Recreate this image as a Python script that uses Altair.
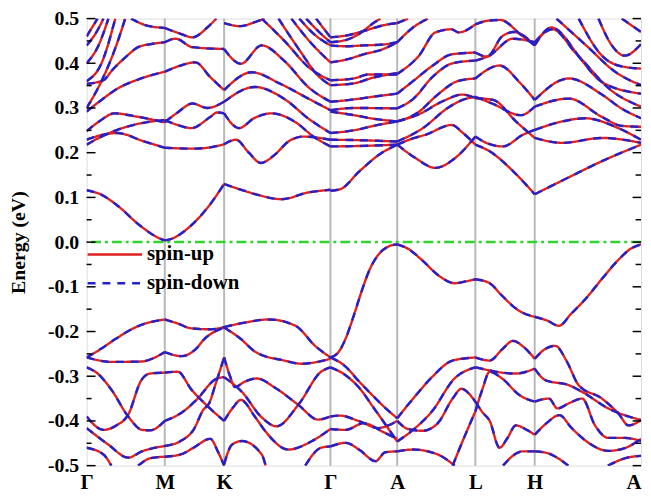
import altair as alt
import pandas as pd

# high-symmetry points along the k-path
kpos = [0, 79, 139, 246.5, 314, 393, 453, 560.5]
klabels = ["Γ", "M", "K", "Γ", "A", "L", "H", "A"]
ymajor = [-0.5, -0.4, -0.3, -0.2, -0.1, 0.0, 0.1, 0.2, 0.3, 0.4, 0.5]
yminor = [-0.45, -0.35, -0.25, -0.15, -0.05, 0.05, 0.15, 0.25, 0.35, 0.45]
spins = ["spin-up", "spin-down"]

# bands, segment by segment: [k, E(eV)]
GM_up = [
    [[0, 0.116], [14, 0.107], [31, 0.082], [54, 0.037], [74, 0.008], [79, 0.004]],
    [[0, 0.229], [16, 0.240], [31, 0.244], [57, 0.226], [79, 0.211]],
    [[0, 0.218], [15, 0.236], [31, 0.251], [60, 0.268], [79, 0.273]],
    [[0, 0.248], [14, 0.272], [28, 0.288], [50, 0.281], [79, 0.268]],
    [[0, 0.292], [15, 0.318], [31, 0.343], [55, 0.366], [79, 0.381]],
    [[0, 0.354], [17, 0.362], [26, 0.385], [40, 0.415], [52, 0.436], [65, 0.443], [79, 0.447]],
    [[45, 0.500], [60, 0.485], [79, 0.479]],
    [[0, 0.300], [15, 0.360], [30, 0.440], [39, 0.500]],
    [[0, 0.360], [15, 0.400], [29, 0.500]],
    [[0, 0.400], [12, 0.440], [22, 0.500]],
    [[0, 0.440], [10, 0.470], [17, 0.500]],
    [[0, 0.460], [11, 0.500]],
]
GM_dn = [
    [[0, -0.258], [15, -0.238], [29, -0.217], [52, -0.188], [79, -0.173]],
    [[0, -0.258], [26, -0.268], [56, -0.267], [66, -0.261], [79, -0.246]],
    [[0, -0.280], [10, -0.292], [25, -0.330], [42, -0.390], [56, -0.420], [64, -0.421], [79, -0.400]],
    [[0, -0.390], [17, -0.420], [30, -0.410], [42, -0.386], [55, -0.310], [64, -0.294], [79, -0.292]],
    [[0, -0.416], [22, -0.453], [42, -0.482], [56, -0.468], [79, -0.456]],
    [[0, -0.460], [17, -0.475], [25, -0.500]],
    [[52, -0.500], [65, -0.483], [79, -0.480]],
]
MK_up = [
    [[79, 0.004], [84, 0.006], [104, 0.034], [124, 0.082], [139, 0.130]],
    [[79, 0.211], [108, 0.209], [125, 0.212], [139, 0.219]],
    [[79, 0.273], [92, 0.262], [106, 0.255], [125, 0.280], [132, 0.290], [139, 0.288]],
    [[79, 0.268], [92, 0.290], [107, 0.310], [122, 0.300], [139, 0.314]],
    [[79, 0.381], [95, 0.395], [110, 0.402], [125, 0.369], [139, 0.340]],
    [[79, 0.447], [90, 0.455], [107, 0.436], [139, 0.432]],
    [[79, 0.479], [95, 0.466], [107, 0.458], [122, 0.480], [131, 0.500]],
]
MK_dn = [
    [[79, -0.173], [92, -0.182], [106, -0.193], [125, -0.195], [139, -0.190]],
    [[79, -0.246], [96, -0.255], [110, -0.240], [119, -0.217], [139, -0.191]],
    [[79, -0.400], [97, -0.380], [111, -0.353], [131, -0.306], [139, -0.302]],
    [[79, -0.292], [92, -0.290], [106, -0.330], [119, -0.360], [139, -0.400]],
    [[79, -0.456], [95, -0.445], [108, -0.420], [118, -0.375], [124, -0.360], [130, -0.320], [139, -0.258]],
    [[79, -0.480], [95, -0.475], [108, -0.460], [125, -0.440], [133, -0.470], [139, -0.500]],
]
KG_up = [
    [[139, 0.130], [155, 0.118], [171, 0.107], [197, 0.096], [224, 0.111], [246.5, 0.117]],
    [[139, 0.219], [151, 0.229], [164, 0.200], [176, 0.177], [190, 0.195], [204, 0.225], [219, 0.236], [246.5, 0.229]],
    [[139, 0.288], [154, 0.255], [170, 0.278], [187, 0.288], [210, 0.270], [230, 0.235], [246.5, 0.214]],
    [[139, 0.314], [170, 0.347], [200, 0.320], [225, 0.275], [246.5, 0.244]],
    [[139, 0.340], [167, 0.380], [195, 0.355], [225, 0.320], [246.5, 0.295]],
    [[139, 0.432], [156, 0.399], [177, 0.440], [200, 0.405], [225, 0.345], [246.5, 0.314]],
    [[139, 0.490], [155, 0.483], [170, 0.492], [180, 0.500]],
    [[177, 0.500], [200, 0.450], [225, 0.390], [246.5, 0.362]],
    [[194, 0.500], [215, 0.430], [235, 0.370], [246.5, 0.351]],
    [[207, 0.500], [225, 0.450], [246.5, 0.402]],
    [[215, 0.500], [230, 0.465], [246.5, 0.440]],
    [[222, 0.500], [235, 0.470], [246.5, 0.447]],
    [[232, 0.500], [246.5, 0.458]],
]
KG_dn = [
    [[139, -0.190], [160, -0.180], [184, -0.173], [211, -0.187], [231, -0.232], [246.5, -0.258]],
    [[139, -0.191], [155, -0.215], [171, -0.246], [200, -0.265], [217, -0.272], [246.5, -0.261]],
    [[139, -0.258], [145, -0.300], [150, -0.324], [160, -0.312], [172, -0.305], [190, -0.325], [214, -0.364], [234, -0.397], [246.5, -0.390]],
    [[139, -0.302], [157, -0.335], [177, -0.392], [192, -0.412], [214, -0.364], [237, -0.290], [246.5, -0.280]],
    [[139, -0.400], [148, -0.370], [156, -0.353], [170, -0.390], [181, -0.424], [204, -0.464], [227, -0.446], [246.5, -0.418]],
    [[139, -0.497], [147, -0.453], [157, -0.445], [177, -0.475], [181, -0.500]],
    [[221, -0.500], [237, -0.460], [246.5, -0.457]],
]
GA_up = [
    [[246.5, 0.115], [256, 0.118], [276, 0.159], [296, 0.196], [314, 0.218]],
    [[246.5, 0.214], [275, 0.215], [314, 0.218]],
    [[246.5, 0.229], [275, 0.228], [314, 0.225]],
    [[246.5, 0.244], [270, 0.250], [290, 0.260], [314, 0.270]],
    [[246.5, 0.292], [270, 0.284], [290, 0.276], [314, 0.270]],
    [[246.5, 0.295], [270, 0.300], [314, 0.299]],
    [[246.5, 0.314], [266, 0.318], [289, 0.325], [314, 0.332]],
    [[246.5, 0.351], [270, 0.355], [290, 0.368], [314, 0.378]],
    [[246.5, 0.362], [270, 0.366], [285, 0.375], [314, 0.375]],
    [[246.5, 0.402], [262, 0.408], [280, 0.420], [300, 0.432], [314, 0.447]],
    [[246.5, 0.440], [262, 0.438], [280, 0.440], [300, 0.442], [314, 0.447]],
    [[246.5, 0.447], [262, 0.452], [275, 0.465], [290, 0.490], [297, 0.500]],
    [[246.5, 0.458], [262, 0.462], [280, 0.472], [300, 0.485], [314, 0.490]],
]
GA_dn = [
    [[246.5, -0.258], [255, -0.245], [262, -0.215], [270, -0.165], [278, -0.110], [286, -0.062], [295, -0.028], [305, -0.010], [314, -0.005]],
    [[246.5, -0.258], [260, -0.275], [276, -0.313], [290, -0.345], [302.5, -0.372], [314, -0.394]],
    [[246.5, -0.280], [260, -0.295], [276, -0.327], [290, -0.370], [302.5, -0.409], [314, -0.446]],
    [[246.5, -0.390], [256, -0.388], [276, -0.401], [295, -0.416], [305, -0.410], [314, -0.400]],
    [[246.5, -0.418], [262, -0.420], [280, -0.405], [300, -0.425], [314, -0.440]],
    [[246.5, -0.457], [262, -0.449], [276, -0.465], [292, -0.490], [302, -0.470], [314, -0.468]],
]
AL_up = [
    [[314, 0.218], [332.5, 0.188], [352.5, 0.166], [372.5, 0.188], [393, 0.236]],
    [[314, 0.218], [330, 0.232], [342.5, 0.240], [369, 0.262], [380, 0.245], [393, 0.218]],
    [[314, 0.225], [340, 0.255], [365, 0.300], [380, 0.318], [393, 0.325]],
    [[314, 0.270], [335, 0.285], [360, 0.315], [380, 0.330], [393, 0.322]],
    [[314, 0.270], [335, 0.290], [355, 0.330], [375, 0.360], [393, 0.366]],
    [[314, 0.299], [330, 0.320], [350, 0.370], [370, 0.400], [393, 0.406]],
    [[314, 0.332], [330, 0.360], [350, 0.395], [369, 0.420], [393, 0.424]],
    [[314, 0.376], [336, 0.417], [352.5, 0.469], [369, 0.476], [376, 0.469], [393, 0.487]],
    [[314, 0.447], [330, 0.480], [345, 0.500]],
    [[314, 0.490], [325, 0.500]],
]
AL_dn = [
    [[314, -0.005], [325, -0.015], [339, -0.040], [356, -0.075], [372.5, -0.092], [383, -0.088], [393, -0.083]],
    [[314, -0.394], [332, -0.345], [350, -0.300], [370, -0.265], [393, -0.258]],
    [[314, -0.446], [330, -0.420], [349, -0.379], [372, -0.305], [393, -0.280]],
    [[314, -0.400], [325, -0.418], [340, -0.422], [355, -0.405], [370, -0.350], [379, -0.328], [387, -0.340], [393, -0.357]],
    [[314, -0.468], [330, -0.464], [355, -0.475], [372, -0.500]],
    [[370, -0.500], [383, -0.430], [393, -0.379]],
]
LH_up = [
    [[393, 0.218], [407.5, 0.203], [431, 0.159], [453, 0.107]],
    [[393, 0.236], [404, 0.222], [421, 0.214], [441, 0.240], [453, 0.251]],
    [[393, 0.325], [410, 0.310], [439, 0.284], [453, 0.303]],
    [[393, 0.322], [411, 0.318], [434, 0.270], [453, 0.233]],
    [[393, 0.366], [417.5, 0.395], [437.5, 0.358], [453, 0.318]],
    [[393, 0.406], [407, 0.417], [431, 0.455], [453, 0.447]],
    [[393, 0.424], [405, 0.415], [420, 0.460], [432, 0.470], [453, 0.440]],
    [[393, 0.487], [405, 0.495], [418, 0.497], [440, 0.462], [453, 0.440]],
]
LH_dn = [
    [[393, -0.083], [407.5, -0.092], [420, -0.120], [437.5, -0.154], [453, -0.167]],
    [[393, -0.258], [407.5, -0.265], [420, -0.240], [431, -0.221], [442, -0.235], [453, -0.261]],
    [[393, -0.280], [407.5, -0.287], [420, -0.292], [434, -0.294], [453, -0.283]],
    [[393, -0.379], [400, -0.330], [407.5, -0.290], [420, -0.305], [437.5, -0.342], [453, -0.357]],
    [[393, -0.357], [400, -0.380], [407.5, -0.400], [417.5, -0.460], [425, -0.440], [434, -0.410], [445, -0.420], [453, -0.431]],
    [[421, -0.500], [435, -0.472], [441, -0.468], [453, -0.468]],
]
HA_up = [
    [[453, 0.107], [487.5, 0.145], [521, 0.181], [560.5, 0.218]],
    [[453, 0.233], [481, 0.222], [521, 0.233], [560.5, 0.222]],
    [[453, 0.251], [481, 0.270], [504, 0.277], [537.5, 0.255], [560.5, 0.229]],
    [[453, 0.303], [487.5, 0.321], [521, 0.280], [541, 0.260], [560.5, 0.258]],
    [[453, 0.318], [487.5, 0.366], [521, 0.330], [540, 0.300], [560.5, 0.277]],
    [[453, 0.447], [471, 0.476], [494, 0.424], [521, 0.358], [560.5, 0.332]],
    [[453, 0.440], [470, 0.480], [500, 0.410], [530, 0.340], [560.5, 0.303]],
    [[497.5, 0.500], [521, 0.417], [537.5, 0.395], [560.5, 0.388]],
    [[517.5, 0.500], [531, 0.440], [544, 0.417], [560.5, 0.443]],
    [[475, 0.500], [505, 0.440], [535, 0.380], [560.5, 0.351]],
    [[541, 0.500], [560.5, 0.470]],
]
HA_dn = [
    [[453, -0.167], [465, -0.175], [477.5, -0.187], [490, -0.160], [504, -0.128], [520, -0.085], [537.5, -0.040], [550, -0.015], [560.5, -0.005]],
    [[453, -0.261], [463, -0.240], [474, -0.232], [485, -0.265], [497.5, -0.320], [521, -0.350], [537.5, -0.383], [548, -0.410], [560.5, -0.398]],
    [[453, -0.283], [464, -0.309], [487.5, -0.320], [501, -0.335], [527.5, -0.372], [560.5, -0.398]],
    [[453, -0.357], [467.5, -0.350], [476, -0.372], [488, -0.360], [501, -0.350], [514, -0.410], [527.5, -0.438], [544, -0.438], [560.5, -0.445]],
    [[453, -0.431], [465, -0.405], [478, -0.387], [490, -0.415], [505, -0.445], [527.5, -0.467], [545, -0.460], [560.5, -0.440]],
    [[453, -0.468], [466, -0.472], [474, -0.480], [487, -0.500]],
    [[527, -0.500], [545, -0.483], [560.5, -0.478]],
]

groups = [GM_up, GM_dn, MK_up, MK_dn, KG_up, KG_dn, GA_up, GA_dn,
          AL_up, AL_dn, LH_up, LH_dn, HA_up, HA_dn]

rows = []
bid = 0
for g in groups:
    for band in g:
        for i, (k, e) in enumerate(band):
            for s in spins:
                rows.append({"k": k, "E": e, "band": bid, "i": i, "spin": s})
        bid += 1
df = pd.DataFrame(rows)

RED = "#e01f1f"
BLUE = "#2222cc"
FONT = "Liberation Serif"

label_expr = " : ".join(f"datum.value == {k} ? '{l}'" for k, l in zip(kpos, klabels)) + " : ''"
xaxis = alt.Axis(values=kpos, labelExpr=label_expr, ticks=False, tickSize=0, domain=False,
                 grid=False, labelFont=FONT, labelFontSize=21, labelFontWeight="bold",
                 labelColor="black", labelPadding=6, title=None, labelFlush=False,
                 labelAlign={"condition": {"test": "datum.value > 560", "value": "right"},
                             "value": "center"})
yaxis = alt.Axis(values=ymajor, ticks=False, tickSize=0, domain=False, grid=False,
                 labelExpr="datum.value < -0.001 ? '-' + format(abs(datum.value), '.1f') : format(abs(datum.value), '.1f')",
                 labelFont=FONT, labelFontSize=20, labelFontWeight="bold", labelColor="black",
                 labelPadding=8, title="Energy (eV)", titleFont=FONT, titleFontSize=20,
                 titleFontWeight="bold", titleColor="black", titleAngle=270, titleX=-69,
                 titleY=226, titleAlign="center", titleBaseline="middle", labelFlush=False)

xscale = alt.Scale(domain=[0, 560.5], nice=False, zero=False)
yscale = alt.Scale(domain=[-0.5, 0.5], nice=False, zero=False)
X = alt.X("k:Q", scale=xscale, axis=xaxis)
Y = alt.Y("E:Q", scale=yscale, axis=yaxis)

legend = alt.Legend(orient="none", legendX=18, legendY=228, title=None,
                    symbolType="M-5.5,0H5.5", symbolSize=100, symbolStrokeWidth=2.5,
                    labelFont=FONT, labelFontSize=21, labelFontWeight="bold",
                    labelColor="black", labelOffset=22, rowPadding=7, padding=0)
color = alt.Color("spin:N", scale=alt.Scale(domain=spins, range=[RED, BLUE]), legend=legend)
dash = alt.StrokeDash("spin:N", scale=alt.Scale(domain=spins, range=[[1, 0], [8, 7]]), legend=legend)

vlines = alt.Chart(pd.DataFrame({"k": kpos[1:-1]})).mark_rule(
    color="#b8b8b8", strokeWidth=2).encode(x=X)

zero = alt.Chart(pd.DataFrame({"E": [0.0]})).mark_rule(
    color="#2fd42f", strokeWidth=2.5, strokeDash=[10, 4, 3, 4]).encode(y=Y)

base = alt.Chart(df)
up = base.transform_filter(alt.datum.spin == "spin-up").mark_line(
    interpolate="monotone", clip=True, strokeWidth=2.4).encode(
    x=X, y=Y, detail="band:N", order="i:Q", color=color, strokeDash=dash)
down = base.transform_filter(alt.datum.spin == "spin-down").mark_line(
    interpolate="monotone", clip=True, strokeWidth=2.4).encode(
    x=X, y=Y, detail="band:N", order="i:Q", color=color, strokeDash=dash)

tick_df_major = pd.DataFrame({"E": ymajor})
tick_df_minor = pd.DataFrame({"E": yminor})
lmaj = alt.Chart(tick_df_major).mark_rule(color="black", strokeWidth=1.5).encode(
    y=Y, x=alt.value(0), x2=alt.value(9))
lmin = alt.Chart(tick_df_minor).mark_rule(color="black", strokeWidth=1.5).encode(
    y=Y, x=alt.value(0), x2=alt.value(5))
rmaj = alt.Chart(tick_df_major).mark_rule(color="black", strokeWidth=1.5).encode(
    y=Y, x=alt.value(560.5), x2=alt.value(552))
rmin = alt.Chart(tick_df_minor).mark_rule(color="black", strokeWidth=1.5).encode(
    y=Y, x=alt.value(560.5), x2=alt.value(555))

chart = alt.layer(vlines, zero, up, down, lmaj, lmin, rmaj, rmin).properties(
    width=560.5, height=452,
    autosize=alt.AutoSizeParams(type="none"),
    padding={"left": 79.5, "top": 8, "right": 2, "bottom": 28},
).configure_view(stroke="black", strokeWidth=2).configure(background="white")

chart.save("out.html", embed_options={"renderer": "svg", "actions": False})
